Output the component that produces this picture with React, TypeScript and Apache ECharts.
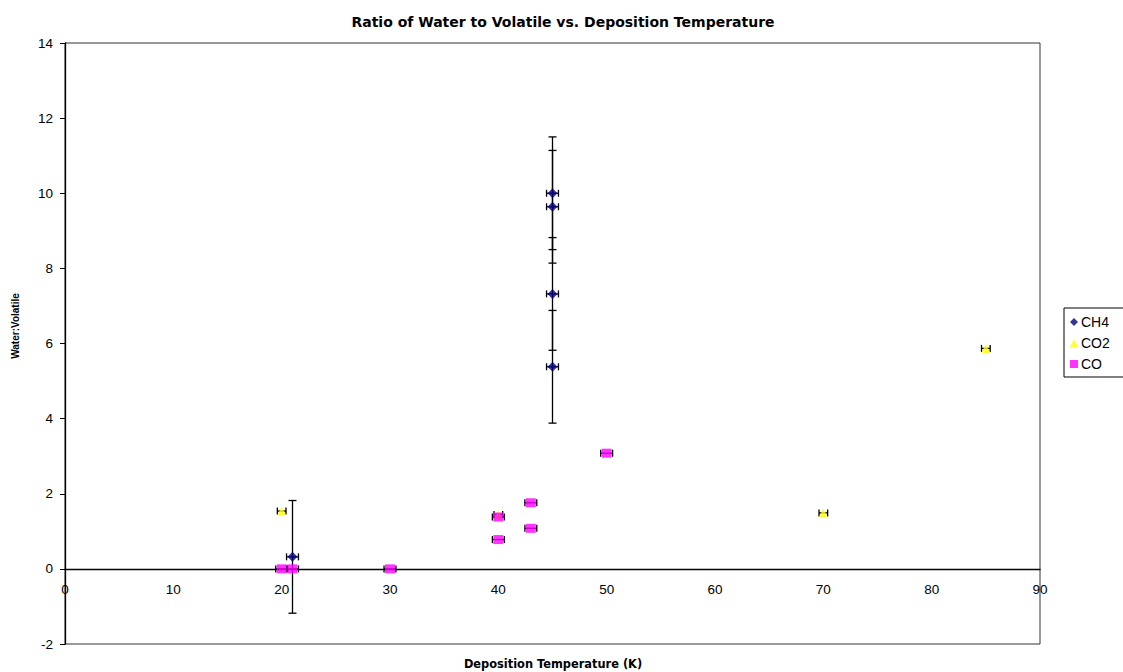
import React, { useEffect, useRef } from "react";
import * as echarts from "echarts";

const ch4X = [21, 45, 45, 45, 45];
const ch4Y = [0.32, 10.0, 9.64, 7.32, 5.38];
const ch4XErr = [0.55, 0.55, 0.55, 0.55, 0.55];
const ch4YErr = [1.5, 1.5, 1.5, 1.5, 1.5];

const co2X = [20, 40, 70, 85];
const co2Y = [1.54, 1.45, 1.49, 5.87];
const co2XErr = [0.4, 0.4, 0.4, 0.4];

const coX = [20, 21, 30, 40, 40, 43, 43, 50];
const coY = [0, 0, 0, 0.78, 1.38, 1.08, 1.76, 3.08];
const coXErr = [0.55, 0.55, 0.55, 0.55, 0.55, 0.55, 0.55, 0.55];

const xTicks = { min: 0, max: 90, interval: 10 };
const yTicks = { min: -2, max: 14, interval: 2 };

const FONT = "Liberation Sans, Arial, sans-serif";
const WIDE = "DejaVu Sans, sans-serif";

function errorSeries(xs: number[], ys: number[], xe: number[], ye: number[] | null, z: number) {
  const data = xs.map((x, i) => [x, ys[i], xe[i], ye ? ye[i] : 0]);
  return {
    type: "custom",
    z,
    silent: true,
    encode: { x: 0, y: 1 },
    data,
    renderItem: (params: any, api: any) => {
      const x = api.value(0);
      const y = api.value(1);
      const dx = api.value(2);
      const dy = api.value(3);
      const style = { stroke: "#000", lineWidth: 1.3 };
      const children: any[] = [];
      if (dy > 0) {
        const top = api.coord([x, y + dy]);
        const bot = api.coord([x, y - dy]);
        children.push({ type: "line", shape: { x1: top[0], y1: top[1], x2: bot[0], y2: bot[1] }, style });
        children.push({ type: "line", shape: { x1: top[0] - 4, y1: top[1], x2: top[0] + 4, y2: top[1] }, style });
        children.push({ type: "line", shape: { x1: bot[0] - 4, y1: bot[1], x2: bot[0] + 4, y2: bot[1] }, style });
      }
      if (dx > 0) {
        const l = api.coord([x - dx, y]);
        const r = api.coord([x + dx, y]);
        children.push({ type: "line", shape: { x1: l[0], y1: l[1], x2: r[0], y2: r[1] }, style });
        children.push({ type: "line", shape: { x1: l[0], y1: l[1] - 3.5, x2: l[0], y2: l[1] + 3.5 }, style });
        children.push({ type: "line", shape: { x1: r[0], y1: r[1] - 3.5, x2: r[0], y2: r[1] + 3.5 }, style });
      }
      return { type: "group", children };
    },
  };
}

export default function App() {
  const ref = useRef<HTMLDivElement>(null);
  useEffect(() => {
    if (!ref.current) return;
    const chart = echarts.init(ref.current, null, { renderer: "svg" });
    const pairs = (xs: number[], ys: number[]) => xs.map((x, i) => [x, ys[i]]);
    const gridH = 601;
    const zeroOffset = (gridH * (0 - yTicks.min)) / (yTicks.max - yTicks.min);
    chart.setOption({
      animation: false,
      backgroundColor: "#fff",
      title: {
        text: "Ratio of Water to Volatile vs. Deposition Temperature",
        left: 558,
        top: 10,
        textAlign: "center",
        textStyle: { fontFamily: WIDE, fontSize: 14, fontWeight: "bold", color: "#000" },
      },
      grid: {
        left: 65,
        top: 43,
        width: 975,
        height: gridH,
        show: true,
        borderColor: "#333",
        borderWidth: 1,
        backgroundColor: "#fff",
      },
      legend: {
        orient: "vertical",
        left: 1064,
        top: 308,
        padding: [7, 20, 6, 6],
        itemGap: 7,
        itemWidth: 8,
        itemHeight: 8,
        borderColor: "#000",
        borderWidth: 1,
        backgroundColor: "#fff",
        textStyle: { fontFamily: FONT, fontSize: 14, color: "#000", padding: [0, 0, 0, -2] },
        data: [
          { name: "CH4", icon: "diamond" },
          { name: "CO2", icon: "triangle" },
          { name: "CO", icon: "rect" },
        ],
      },
      xAxis: {
        type: "value",
        min: xTicks.min,
        max: xTicks.max,
        interval: xTicks.interval,
        offset: -zeroOffset,
        axisLine: { onZero: false, lineStyle: { color: "#000", width: 1.3 } },
        axisTick: { show: false },
        splitLine: { show: false },
        axisLabel: { fontFamily: FONT, fontSize: 13.5, color: "#000", margin: 14 },
      },
      yAxis: {
        type: "value",
        min: yTicks.min,
        max: yTicks.max,
        interval: yTicks.interval,
        axisLine: { show: true, onZero: false, lineStyle: { color: "#000", width: 1.3 } },
        axisTick: { show: true, length: 5, lineStyle: { color: "#000" } },
        splitLine: { show: false },
        axisLabel: { fontFamily: FONT, fontSize: 13.5, color: "#000", margin: 12 },
      },
      graphic: [
        {
          type: "text",
          x: 15,
          y: 326,
          rotation: Math.PI / 2,
          style: {
            text: "Water:Volatile",
            fontFamily: FONT,
            fontSize: 10,
            fontWeight: "bold",
            fill: "#000",
            align: "center",
            verticalAlign: "middle",
          },
        },
        {
          type: "text",
          x: 553,
          y: 664,
          style: {
            text: "Deposition Temperature (K)",
            fontFamily: WIDE,
            fontSize: 11.4,
            fontWeight: "bold",
            fill: "#000",
            align: "center",
            verticalAlign: "middle",
          },
        },
      ],
      series: [
        errorSeries(ch4X, ch4Y, ch4XErr, ch4YErr, 2),
        errorSeries(co2X, co2Y, co2XErr, null, 2),
        errorSeries(coX, coY, coXErr, null, 2),
        {
          name: "CH4",
          type: "scatter",
          z: 3,
          symbol: "diamond",
          symbolSize: 10,
          itemStyle: { color: "#000080" },
          data: pairs(ch4X, ch4Y),
        },
        {
          name: "CO2",
          type: "scatter",
          z: 4,
          symbol: "triangle",
          symbolSize: 9,
          itemStyle: { color: "#FFFF00" },
          data: pairs(co2X, co2Y),
        },
        {
          name: "CO",
          type: "scatter",
          z: 5,
          symbol: "rect",
          symbolSize: [10, 9],
          itemStyle: { color: "#FF00FF" },
          data: pairs(coX, coY),
        },
      ],
    });
    return () => chart.dispose();
  }, []);
  return (
    <div
      ref={ref}
      style={{ position: "fixed", left: 0, top: 0, width: 1123, height: 672, background: "#fff" }}
    />
  );
}
